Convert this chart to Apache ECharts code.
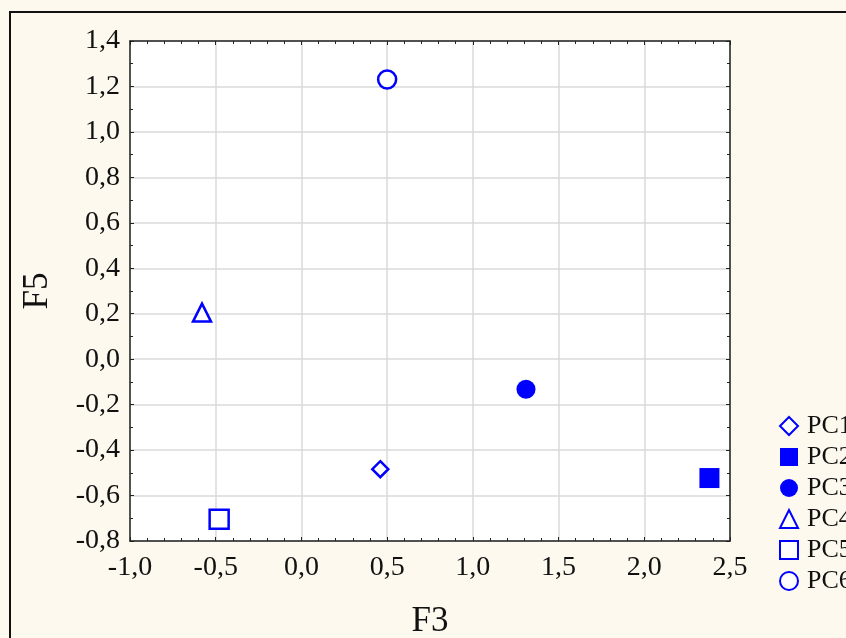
<!DOCTYPE html>
<html>
<head>
<meta charset="utf-8">
<script src="https://cdn.jsdelivr.net/npm/echarts@6/dist/echarts.min.js"></script>
<style>
html,body{margin:0;padding:0;background:#fdf9ee;}
#c{width:846px;height:638px;}
</style>
</head>
<body>
<div id="c"></div>
<script>
const seriesNames = ['PC1','PC2','PC3','PC4','PC5','PC6'];
const xValues = [0.46, 2.38, 1.31, -0.58, -0.48, 0.50];
const yValues = [-0.484, -0.523, -0.132, 0.205, -0.704, 1.231];
const xTicks = [-1.0,-0.5,0.0,0.5,1.0,1.5,2.0,2.5];
const yTicks = [-0.8,-0.6,-0.4,-0.2,0.0,0.2,0.4,0.6,0.8,1.0,1.2,1.4];

const BLUE = '#0000ff';
const symbols = ['diamond','rect','circle','triangle','rect','circle'];
const filled = [false,true,true,false,false,false];
const sizes = [16,20,19,18,19,18];
const font = '"Liberation Serif","Times New Roman",serif';
const fmt = v => v.toFixed(1).replace('.', ',');

const chart = echarts.init(document.getElementById('c'));
const axisLine = {show:true, onZero:false, lineStyle:{color:'#222', width:1.5}};
const tick = {show:true, inside:true, length:4, lineStyle:{color:'#222', width:1}};
const minorTick = {show:true, length:3, lineStyle:{color:'#222', width:1}};

const series = seriesNames.map((n,i)=>({
  name:n, type:'scatter', symbol:symbols[i], symbolSize:sizes[i],
  data:[[xValues[i], yValues[i]]],
  itemStyle: filled[i] ? {color:BLUE, opacity:1} : {color:'#ffffff', borderColor:BLUE, borderWidth:2.5, opacity:1},
  emphasis:{disabled:true}
}));

chart.setOption({
  backgroundColor:'#fdf9ee',
  animation:false,
  graphic:[{type:'rect', shape:{x:10, y:12, width:900, height:700}, style:{fill:'none', stroke:'#111', lineWidth:2}, z:-1}],
  grid:{left:130, top:41, right:116, bottom:97, show:true, backgroundColor:'#ffffff', borderWidth:0, containLabel:false, outerBoundsMode:'none'},
  xAxis:[{
    type:'value', min:xTicks[0], max:xTicks[xTicks.length-1], interval:0.5,
    axisLine, axisTick:tick, minorTick:Object.assign({splitNumber:5}, minorTick),
    splitLine:{show:true, lineStyle:{color:'#dadada', width:1.5}},
    axisLabel:{formatter:fmt, fontFamily:font, fontSize:28, color:'#111', margin:13, showMinLabel:true, showMaxLabel:true},
    name:'F3', nameLocation:'middle', nameGap:63, nameTextStyle:{fontFamily:font, fontSize:35, color:'#111'}
  },{
    type:'value', position:'top', min:xTicks[0], max:xTicks[xTicks.length-1], interval:0.5,
    axisLine, axisTick:tick, minorTick:Object.assign({splitNumber:5}, minorTick),
    splitLine:{show:false}, axisLabel:{show:false}
  }],
  yAxis:[{
    type:'value', min:yTicks[0], max:yTicks[yTicks.length-1], interval:0.2,
    axisLine, axisTick:tick, minorTick:Object.assign({splitNumber:2}, minorTick),
    splitLine:{show:true, lineStyle:{color:'#dadada', width:1.5}},
    axisLabel:{formatter:fmt, fontFamily:font, fontSize:28, color:'#111', margin:10, showMinLabel:true, showMaxLabel:true},
    name:'F5', nameLocation:'middle', nameGap:75, nameRotate:90, nameTextStyle:{fontFamily:font, fontSize:35, color:'#111'}
  },{
    type:'value', position:'right', min:yTicks[0], max:yTicks[yTicks.length-1], interval:0.2,
    axisLine, axisTick:tick, minorTick:Object.assign({splitNumber:2}, minorTick),
    splitLine:{show:false}, axisLabel:{show:false}
  }],
  legend:{
    orient:'vertical', left:774, top:408, itemWidth:18, itemHeight:18, itemGap:5,
    data:seriesNames,
    textStyle:{fontFamily:font, fontSize:26, color:'#111', padding:[0,0,0,4]},
    selectedMode:false
  },
  series
});
</script>
</body>
</html>
